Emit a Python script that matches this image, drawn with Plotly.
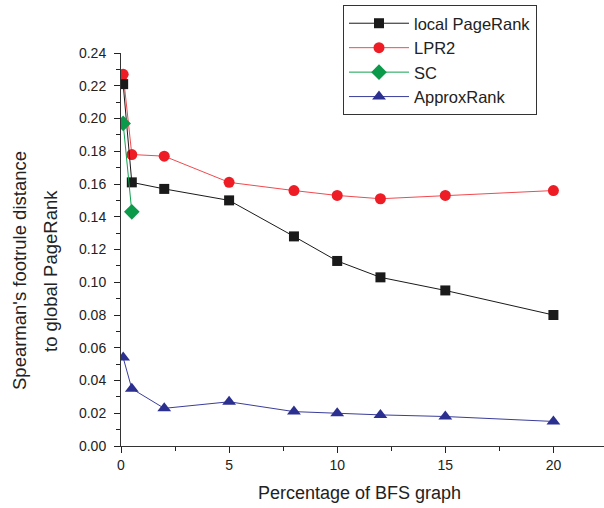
import plotly.graph_objects as go

x_vals = [0.1, 0.5, 2, 5, 8, 10, 12, 15, 20]
local_pagerank = [0.221, 0.161, 0.157, 0.150, 0.128, 0.113, 0.103, 0.095, 0.080]
lpr2 = [0.227, 0.178, 0.177, 0.161, 0.156, 0.153, 0.151, 0.153, 0.156]
sc_x = [0.1, 0.5]
sc = [0.197, 0.143]
approxrank = [0.054, 0.035, 0.023, 0.027, 0.021, 0.020, 0.019, 0.018, 0.015]

x_ticks = [0, 5, 10, 15, 20]
y_ticks = [0.00, 0.02, 0.04, 0.06, 0.08, 0.10, 0.12, 0.14, 0.16, 0.18, 0.20, 0.22, 0.24]

x_title = "Percentage of BFS graph"
y_title_lines = ["Spearman's footrule distance", "to global PageRank"]

FONT = "Liberation Sans, Arial, sans-serif"

# plot area in pixels
L, T, B, W, H = 121, 53, 62, 604, 508
PW = W - L
PH = H - T - B


def px_x(px):
    return (px - L) / PW


def px_y(py):
    return (H - B - py) / PH


fig = go.Figure()
fig.add_trace(go.Scatter(x=x_vals, y=lpr2, name="LPR2", mode="lines+markers",
                         line=dict(color="#f04a4f", width=1),
                         marker=dict(symbol="circle", size=11, color="#ee1c25"),
                         legendrank=2))
fig.add_trace(go.Scatter(x=x_vals, y=local_pagerank, name="local PageRank", mode="lines+markers",
                         line=dict(color="#1a1a1a", width=1),
                         marker=dict(symbol="square", size=10, color="#1a1a1a"),
                         legendrank=1))
fig.add_trace(go.Scatter(x=sc_x, y=sc, name="SC", mode="lines+markers",
                         line=dict(color="#12a14f", width=1),
                         marker=dict(symbol="diamond", size=12, color="#0a9a4a"),
                         legendrank=3))
fig.add_trace(go.Scatter(x=x_vals, y=approxrank, name="ApproxRank", mode="lines+markers",
                         line=dict(color="#3a3d9a", width=1),
                         marker=dict(symbol="triangle-up", size=12, color="#2b2f8f"),
                         legendrank=4))

annotations = [
    dict(text=x_title, xref="paper", yref="paper", x=px_x(359), y=px_y(493),
         xanchor="center", yanchor="middle", showarrow=False,
         font=dict(size=18, family=FONT, color="#222")),
    dict(text=y_title_lines[0], xref="paper", yref="paper", x=px_x(19), y=px_y(271),
         xanchor="center", yanchor="middle", showarrow=False, textangle=-90,
         font=dict(size=18.5, family=FONT, color="#222")),
    dict(text=y_title_lines[1], xref="paper", yref="paper", x=px_x(50), y=px_y(271),
         xanchor="center", yanchor="middle", showarrow=False, textangle=-90,
         font=dict(size=18.5, family=FONT, color="#222")),
]

fig.update_layout(
    width=W, height=H,
    margin=dict(l=L, r=0, t=T, b=B, autoexpand=False),
    paper_bgcolor="white", plot_bgcolor="white",
    font=dict(family=FONT, color="#222", size=14),
    showlegend=True,
    annotations=annotations,
    legend=dict(x=px_x(343), y=px_y(5), xanchor="left", yanchor="top",
                bordercolor="#333", borderwidth=1, bgcolor="white",
                font=dict(size=16.5, family=FONT, color="#222"),
                tracegroupgap=0, itemwidth=60),
    xaxis=dict(range=[0, 22.34], tickvals=x_ticks, ticks="outside", ticklen=6,
               tickcolor="#222", showline=True, linecolor="#333", linewidth=1,
               showgrid=False, zeroline=False,
               minor=dict(tickvals=[2.5, 7.5, 12.5, 17.5, 22.5], ticks="outside", ticklen=4, tickcolor="#222"),
               tickfont=dict(size=14)),
    yaxis=dict(range=[0, 0.24], tickvals=y_ticks, tickformat=".2f", ticks="outside", ticklen=6,
               tickcolor="#222", showline=True, linecolor="#333", linewidth=1,
               showgrid=False, zeroline=False, ticklabelstandoff=5,
               minor=dict(dtick=0.01, ticks="outside", ticklen=4, tickcolor="#222"),
               tickfont=dict(size=14)),
)

fig.write_html("out.html", post_script="document.body.style.margin='0';",
               config={"displayModeBar": False})
